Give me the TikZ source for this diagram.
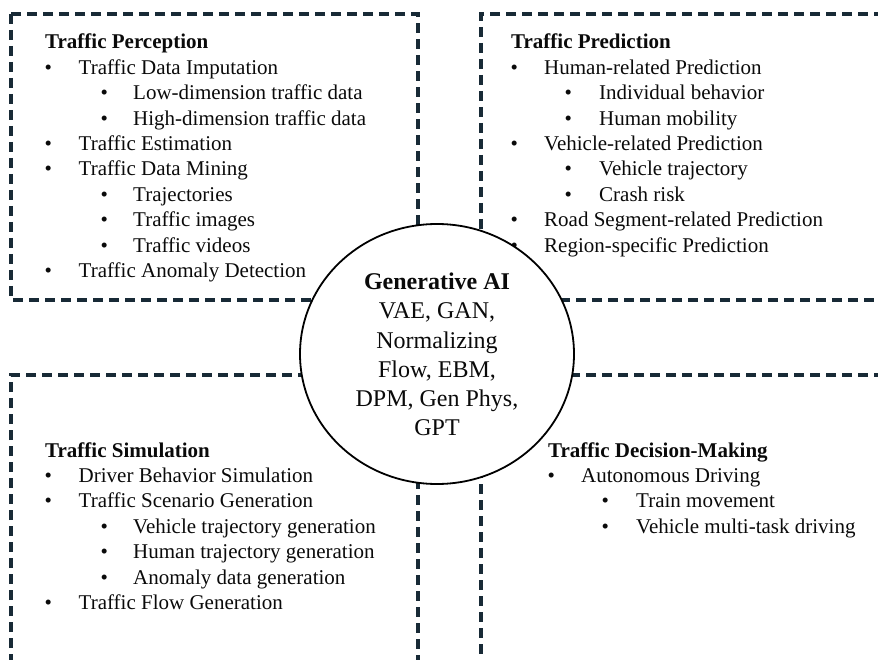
\documentclass[tikz,border=0pt]{standalone}
\usepackage{fontspec}
\setmainfont{Liberation Serif}
\usetikzlibrary{shapes.geometric}
\definecolor{dashcol}{RGB}{24,42,54}
\definecolor{txtcol}{RGB}{10,10,10}
\tikzset{
  txt/.style={inner sep=0pt, anchor=base west, text=txtcol, font=\fontsize{21}{25}\selectfont},
  hd/.style={txt, font=\fontsize{21}{25}\selectfont\bfseries},
  ctxt/.style={inner sep=0pt, anchor=base, text=txtcol, font=\fontsize{24}{29}\selectfont},
  chd/.style={ctxt, font=\fontsize{24}{29}\selectfont\bfseries},
  dashline/.style={draw=dashcol, line width=3.2pt, dash pattern=on 10pt off 6pt},
  genai/.style={ellipse, draw=black, line width=1.8pt, fill=white, minimum width=274pt, minimum height=260pt, inner sep=0pt}
}
% name, bullet x, text x, baseline y, text
\newcommand{\bitem}[5]{%
  \node[txt] (#1b) at (#2,#4) {\textbullet};
  \node[txt] (#1) at (#3,#4) {#5};}
\begin{document}
\begin{tikzpicture}[x=1pt,y=-1pt]
\useasboundingbox (0,0) rectangle (878,660);
\begin{scope}
\clip (0,0) rectangle (878,660);
% quadrant frames
\draw[dashline] (11,14) rectangle (418,300);
\draw[dashline] (900,14) -- (481,14) -- (481,300) -- (900,300);
\draw[dashline] (11,680) -- (11,375) -- (418,375) -- (418,680);
\draw[dashline] (900,375) -- (481,375) -- (481,680);
\end{scope}

% Traffic Perception
\node[hd] (tp) at (45,49) {Traffic Perception};
\bitem{tpa}{44.5}{78.5}{74.4}{Traffic Data Imputation}
\bitem{tpa1}{100.5}{133}{99.8}{Low-dimension traffic data}
\bitem{tpa2}{100.5}{133}{125.2}{High-dimension traffic data}
\bitem{tpb}{44.5}{78.5}{150.6}{Traffic Estimation}
\bitem{tpc}{44.5}{78.5}{176}{Traffic Data Mining}
\bitem{tpc1}{100.5}{133}{201.4}{Trajectories}
\bitem{tpc2}{100.5}{133}{226.8}{Traffic images}
\bitem{tpc3}{100.5}{133}{252.2}{Traffic videos}
\bitem{tpd}{44.5}{78.5}{277.6}{Traffic Anomaly Detection}

% Traffic Prediction
\node[hd] (pr) at (511,49) {Traffic Prediction};
\bitem{pra}{510.5}{544}{74.4}{Human-related Prediction}
\bitem{pra1}{564.5}{599}{99.8}{Individual behavior}
\bitem{pra2}{564.5}{599}{125.2}{Human mobility}
\bitem{prb}{510.5}{544}{150.6}{Vehicle-related Prediction}
\bitem{prb1}{564.5}{599}{176}{Vehicle trajectory}
\bitem{prb2}{564.5}{599}{201.4}{Crash risk}
\bitem{prc}{510.5}{544}{226.8}{Road Segment-related Prediction}
\bitem{prd}{510.5}{544}{252.2}{Region-specific Prediction}

% Traffic Simulation
\node[hd] (ts) at (45,457) {Traffic Simulation};
\bitem{tsa}{44.5}{78.5}{482.4}{Driver Behavior Simulation}
\bitem{tsb}{44.5}{78.5}{507.8}{Traffic Scenario Generation}
\bitem{tsb1}{100.5}{133}{533.2}{Vehicle trajectory generation}
\bitem{tsb2}{100.5}{133}{558.6}{Human trajectory generation}
\bitem{tsb3}{100.5}{133}{584}{Anomaly data generation}
\bitem{tsc}{44.5}{78.5}{609.4}{Traffic Flow Generation}

% Traffic Decision-Making
\node[hd] (dm) at (548,457) {Traffic Decision-Making};
\bitem{dma}{547.5}{581}{482.4}{Autonomous Driving}
\bitem{dma1}{601.5}{636}{507.8}{Train movement}
\bitem{dma2}{601.5}{636}{533.2}{Vehicle multi-task driving}

% Generative AI circle
\node[genai] (gai) at (437,354) {};
\node[chd] (g0) at (437,290) {Generative AI};
\node[ctxt] (g1) at (437,319) {VAE, GAN,};
\node[ctxt] (g2) at (437,348) {Normalizing};
\node[ctxt] (g3) at (437,377) {Flow, EBM,};
\node[ctxt] (g4) at (437,406) {DPM, Gen Phys,};
\node[ctxt] (g5) at (437,435) {GPT};
\end{tikzpicture}
\end{document}
